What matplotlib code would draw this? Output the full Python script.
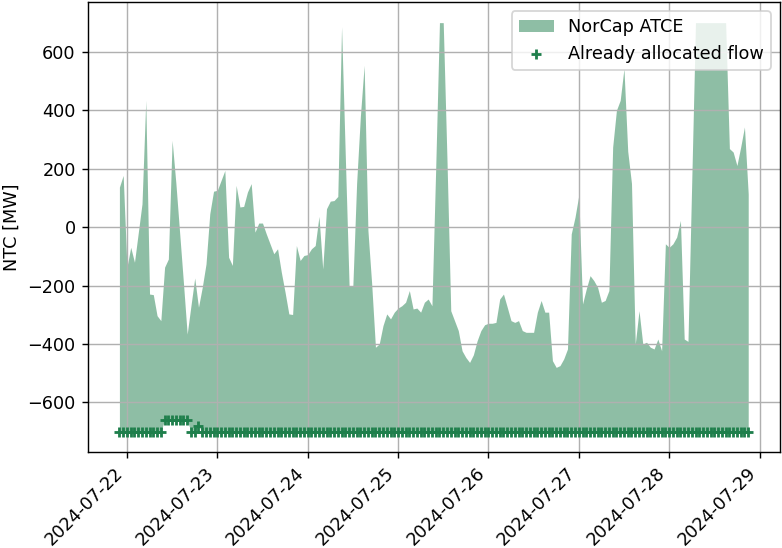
import numpy as np
import pandas as pd
import matplotlib
matplotlib.use("Agg")
import matplotlib.pyplot as plt

# hourly values, 2024-07-21 22:00 -> 2024-07-28 21:00
times = pd.date_range("2024-07-21 22:00", periods=168, freq="h")

atce = [
    137, 177, -137, -69, -120, -20, 80, 434, -229, -231,
    -303, -320, -137, -109, 297, 150, -20, -190, -366, -269,
    -174, -274, -206, -126, 46, 123, 126, 160, 194, -103,
    -131, 143, 69, 71, 120, 149, -17, 14, 14, -23,
    -57, -91, -74, -154, -223, -297, -299, -63, -114, -97,
    -94, -74, -63, 37, -143, 63, 89, 91, 105, 686,
    240, -200, -200, 150, 380, 554, -11, -194, -411, -400,
    -337, -297, -314, -291, -277, -269, -257, -217, -280, -277,
    -291, -257, -246, -269, 200, 700, 700, 230, -286, -320,
    -354, -423, -446, -463, -437, -389, -354, -334, -329, -329,
    -326, -246, -229, -274, -320, -326, -320, -354, -360, -360,
    -360, -291, -251, -291, -291, -457, -480, -474, -451, -417,
    -23, 34, 109, -263, -211, -166, -183, -206, -257, -251,
    -217, 274, 400, 434, 543, 260, 150, -400, -286, -400,
    -394, -411, -417, -383, -423, -57, -69, -57, -34, 23,
    -383, -391, 155, 700, 700, 700, 700, 700, 700, 700,
    700, 700, 269, 257, 211, 274, 343, 114,
]

allocated = [-700] * 168
for i in range(12, 19):
    allocated[i] = -660
allocated[21] = -680

color = "#1f7f4c"

dpi = 127
fig, ax = plt.subplots(figsize=(782 / dpi, 548 / dpi), dpi=dpi)
ax.fill_between(times, allocated, atce, color=color, alpha=0.5,
                linewidth=0, label="NorCap ATCE")
ax.scatter(times, allocated, marker="+", color=color, s=30,
           linewidths=1.6, label="Already allocated flow", zorder=3)

ax.set_ylabel("NTC [MW]")
ax.grid(True)
ax.legend(loc="upper right")
plt.xticks(rotation=45, ha="right")
fig.subplots_adjust(left=0.1125, right=0.997, top=0.996, bottom=0.175)
fig.savefig("out.png")
